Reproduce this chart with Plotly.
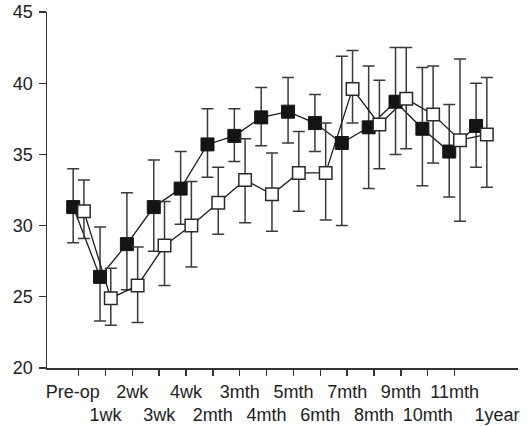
import plotly.graph_objects as go

labels = ["Pre-op", "1wk", "2wk", "3wk", "4wk", "2mth", "3mth", "4mth", "5mth",
          "6mth", "7mth", "8mth", "9mth", "10mth", "11mth", "1year"]

black_mean = [31.3, 26.4, 28.7, 31.3, 32.6, 35.7, 36.3, 37.6, 38.0, 37.2, 35.8, 36.9, 38.7, 36.8, 35.2, 37.0]
black_upper = [34.0, 29.9, 32.3, 34.6, 35.2, 38.2, 38.2, 39.7, 40.4, 39.2, 41.9, 41.2, 42.5, 41.1, 38.5, 40.0]
black_lower = [28.8, 23.3, 25.5, 28.2, 30.1, 33.4, 34.5, 35.6, 35.8, 35.2, 30.0, 32.6, 35.0, 32.8, 32.0, 34.1]

white_mean = [31.0, 24.9, 25.8, 28.6, 30.0, 31.6, 33.2, 32.2, 33.7, 33.7, 39.6, 37.1, 38.9, 37.8, 36.0, 36.4]
white_upper = [33.2, 27.0, 28.5, 31.7, 33.1, 34.1, 36.1, 35.1, 36.6, 37.2, 42.3, 40.2, 42.5, 41.2, 41.7, 40.4]
white_lower = [29.1, 23.0, 23.2, 25.8, 27.1, 29.4, 30.2, 29.6, 31.0, 30.4, 37.2, 34.0, 35.4, 34.4, 30.3, 32.7]

y_ticks = [20, 25, 30, 35, 40, 45]

n = len(labels)
idx = list(range(n))
off = 0.2
xb = [i - off for i in idx]
xw = [i + off for i in idx]

FONT = "Liberation Sans, Arial, sans-serif"
LINEC = "#1a1a1a"
ERRC = "#3a3a3a"

fig = go.Figure()
fig.add_trace(go.Scatter(
    x=xb, y=black_mean, mode="lines+markers",
    line=dict(color=LINEC, width=1.3),
    marker=dict(symbol="square", size=13, color="#141414", line=dict(color="#141414", width=1)),
    error_y=dict(type="data", symmetric=False,
                 array=[u - m for u, m in zip(black_upper, black_mean)],
                 arrayminus=[m - l for m, l in zip(black_mean, black_lower)],
                 color=ERRC, thickness=1.5, width=6),
    cliponaxis=False, showlegend=False))
fig.add_trace(go.Scatter(
    x=xw, y=white_mean, mode="lines+markers",
    line=dict(color=LINEC, width=1.3),
    marker=dict(symbol="square", size=12.5, color="white", line=dict(color="#2a2a2a", width=1.5)),
    error_y=dict(type="data", symmetric=False,
                 array=[u - m for u, m in zip(white_upper, white_mean)],
                 arrayminus=[m - l for m, l in zip(white_mean, white_lower)],
                 color=ERRC, thickness=1.5, width=6),
    cliponaxis=False, showlegend=False))

# label positions (staggered, first/last nudged as in the reference)
label_pos = [i for i in idx]
label_pos[0] = -0.22
label_pos[-1] = n - 1 + 0.58
ticktext = [lab if i % 2 == 0 else "<br>" + lab for i, lab in enumerate(labels)]

# dummy trace so that the label axis is drawn
fig.add_trace(go.Scatter(x=[0], y=[20], xaxis="x2", mode="markers",
                         marker=dict(opacity=0), showlegend=False, hoverinfo="skip"))

xr = [-1.175, 16.36]
fig.update_layout(
    width=528, height=426,
    margin=dict(l=47, r=10, t=12, b=58),
    paper_bgcolor="white", plot_bgcolor="white",
    font=dict(family=FONT, size=18, color="#222"),
    hovermode=False,
    xaxis=dict(range=xr, showgrid=False, zeroline=False, showline=True,
               linecolor="#333", linewidth=1.5, automargin=False,
               tickmode="array", tickvals=idx[:-1], ticktext=[""] * (n - 1),
               showticklabels=True,
               ticks="outside", ticklen=6, tickwidth=1.4, tickcolor="#333"),
    xaxis2=dict(range=xr, overlaying="x", anchor="y", side="bottom",
                showgrid=False, zeroline=False, showline=False, automargin=False,
                tickvals=label_pos, ticktext=ticktext, ticks="", tickangle=0,
                ticklabelstandoff=11, ticklabeloverflow="allow",
                tickfont=dict(size=18)),
    yaxis=dict(range=[20, 45], showgrid=False, zeroline=False, showline=True,
               linecolor="#333", linewidth=1.5, tickvals=y_ticks, automargin=False,
               ticks="outside", ticklen=7, tickwidth=1.3, tickcolor="#333",
               ticklabelstandoff=2, ticklabeloverflow="allow",
               tickfont=dict(size=18)),
)

fig.write_html("out.html", config={"displayModeBar": False, "staticPlot": True},
               post_script="document.body.style.margin='0';document.body.style.overflow='hidden';")
